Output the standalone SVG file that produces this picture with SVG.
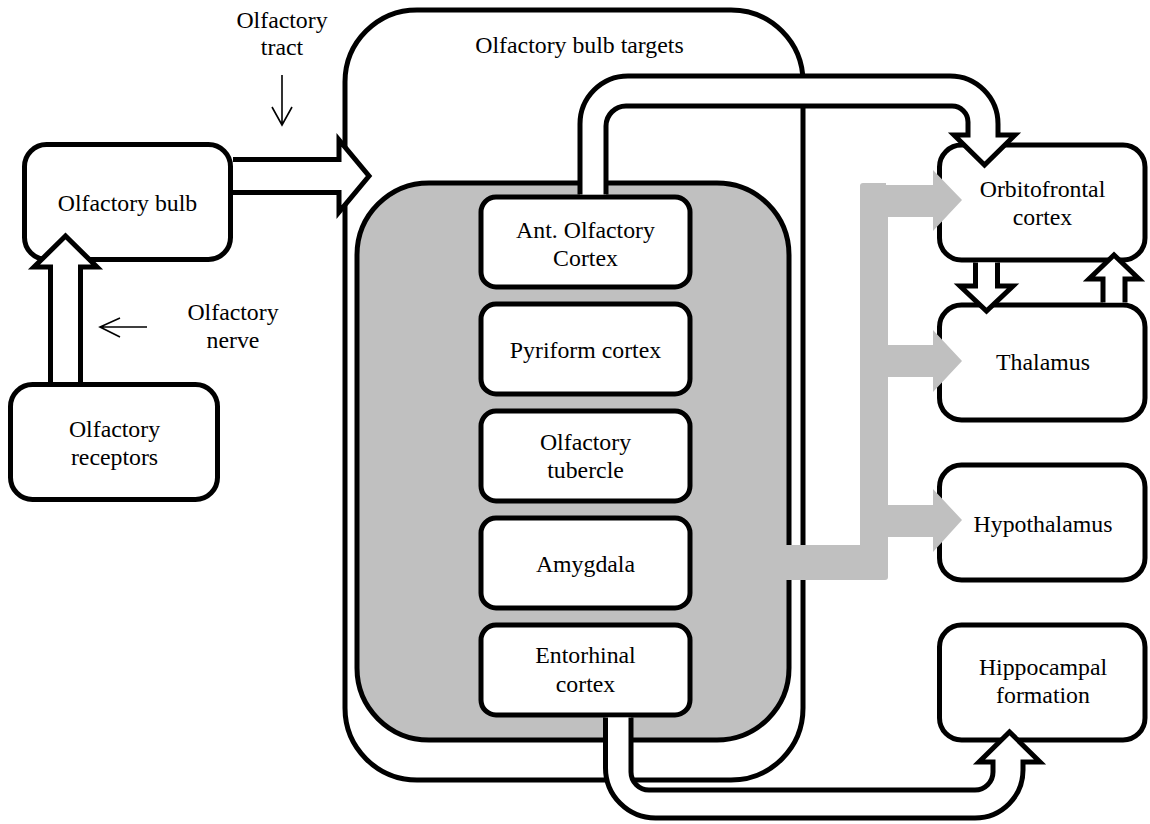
<svg xmlns="http://www.w3.org/2000/svg" width="1150" height="824" viewBox="0 0 1150 824">
<style>
.box{fill:#fff;stroke:#000;stroke-width:5}
.cont{fill:#fff;stroke:#000;stroke-width:5}
.gray{fill:#c0c0c0;stroke:#000;stroke-width:5}
.harrow{fill:#fff;stroke:#000;stroke-width:5;stroke-linejoin:miter;stroke-miterlimit:10}
.garrow{fill:#c0c0c0;stroke:none}
.thin{fill:none;stroke:#000;stroke-width:1.6}
text{font-family:"Liberation Serif","Times New Roman",serif;font-size:23.8px;text-anchor:middle;fill:#000}
</style>
<rect width="1150" height="824" fill="#fff"/>
<g id="targets">
<rect class="cont" x="345" y="10" width="458" height="770" rx="72"/>
<text x="579.5" y="53">Olfactory bulb targets</text>
</g>
<g id="targets-inner">
<rect class="gray" x="357" y="183" width="432" height="557" rx="72"/>
</g>
<g id="ant-olfactory-cortex">
<rect class="box" x="481" y="197" width="209" height="90" rx="15"/>
<text x="585.5" y="238">Ant. Olfactory</text>
<text x="585.5" y="266">Cortex</text>
</g>
<g id="pyriform-cortex">
<rect class="box" x="481" y="304" width="209" height="90" rx="15"/>
<text x="585.5" y="358">Pyriform cortex</text>
</g>
<g id="olfactory-tubercle">
<rect class="box" x="481" y="411" width="209" height="90" rx="15"/>
<text x="585.5" y="450">Olfactory</text>
<text x="585.5" y="478">tubercle</text>
</g>
<g id="amygdala">
<rect class="box" x="481" y="518" width="209" height="90" rx="15"/>
<text x="585.5" y="572">Amygdala</text>
</g>
<g id="entorhinal-cortex">
<rect class="box" x="481" y="625" width="209" height="90" rx="15"/>
<text x="585.5" y="663">Entorhinal</text>
<text x="585.5" y="692">cortex</text>
</g>
<g id="olfactory-bulb">
<rect class="box" x="24.5" y="144.5" width="206" height="115" rx="22"/>
<text x="127.5" y="211">Olfactory bulb</text>
</g>
<g id="olfactory-receptors">
<rect class="box" x="10.5" y="384.5" width="207" height="115" rx="22"/>
<text x="114.5" y="437">Olfactory</text>
<text x="114.5" y="465">receptors</text>
</g>
<g id="orbitofrontal-cortex">
<rect class="box" x="939.5" y="145" width="205.5" height="115" rx="22"/>
<text x="1042.5" y="197">Orbitofrontal</text>
<text x="1042.5" y="225">cortex</text>
</g>
<g id="thalamus">
<rect class="box" x="939.5" y="305" width="205.5" height="115" rx="22"/>
<text x="1043" y="370">Thalamus</text>
</g>
<g id="hypothalamus">
<rect class="box" x="939.5" y="465" width="205.5" height="115" rx="22"/>
<text x="1043" y="532">Hypothalamus</text>
</g>
<g id="hippocampal-formation">
<rect class="box" x="939.5" y="625" width="205.5" height="115" rx="22"/>
<text x="1043" y="675">Hippocampal</text>
<text x="1043" y="703">formation</text>
</g>
<g id="connectors">
<path class="garrow" d="M 780 545 H 860 V 186 Q 860 183 863 183 H 886 V 185 H 933 V 170 L 962 200 L 933 231 V 217 H 888 V 345 H 933 V 330 L 962 361 L 933 392 V 377 H 888 V 505 H 933 V 489 L 962 520 L 933 552 V 537 H 888 V 577 Q 888 580 885 580 H 780 Z"/>
<path class="harrow" d="M 233 159.5 H 339 V 140 L 369 176 L 339 212 V 192.5 H 233"/>
<path class="harrow" d="M 50.5 382 V 267 H 34 L 65.5 236 L 97 267 H 80.5 V 382"/>
<path class="harrow" d="M 580 194.5 V 124 A 48 48 0 0 1 628 76 H 950 A 48 48 0 0 1 998 124 V 135 H 1015 L 984.5 165 L 954 135 H 968 V 122 A 16 16 0 0 0 952 106 H 626 A 20 20 0 0 0 606 126 V 194.5"/>
<path class="harrow" d="M 605.5 717.5 V 768 A 50 50 0 0 0 655.5 818 H 975 A 48 48 0 0 0 1023 770 V 762 H 1040 L 1009.5 732 L 979 762 H 993 V 772 A 18 18 0 0 1 975 790 H 649 A 18 18 0 0 1 631 772 V 717.5"/>
<path class="harrow" d="M 975.5 262.5 V 286 H 960 L 986.5 311 L 1013 286 H 997.5 V 262.5"/>
<path class="harrow" d="M 1103 302.5 V 279 H 1089 L 1114 255 L 1139 279 H 1125 V 302.5"/>
<path class="thin" d="M 282 75 V 125 M 272 107 L 282 125 L 292 107"/>
<path class="thin" d="M 147 327 H 100 M 120 318 L 100 327 L 120 337"/>
</g>
<g id="labels">
<text x="282" y="28">Olfactory</text>
<text x="282" y="55">tract</text>
<text x="233" y="320">Olfactory</text>
<text x="233" y="348">nerve</text>
</g>
</svg>
